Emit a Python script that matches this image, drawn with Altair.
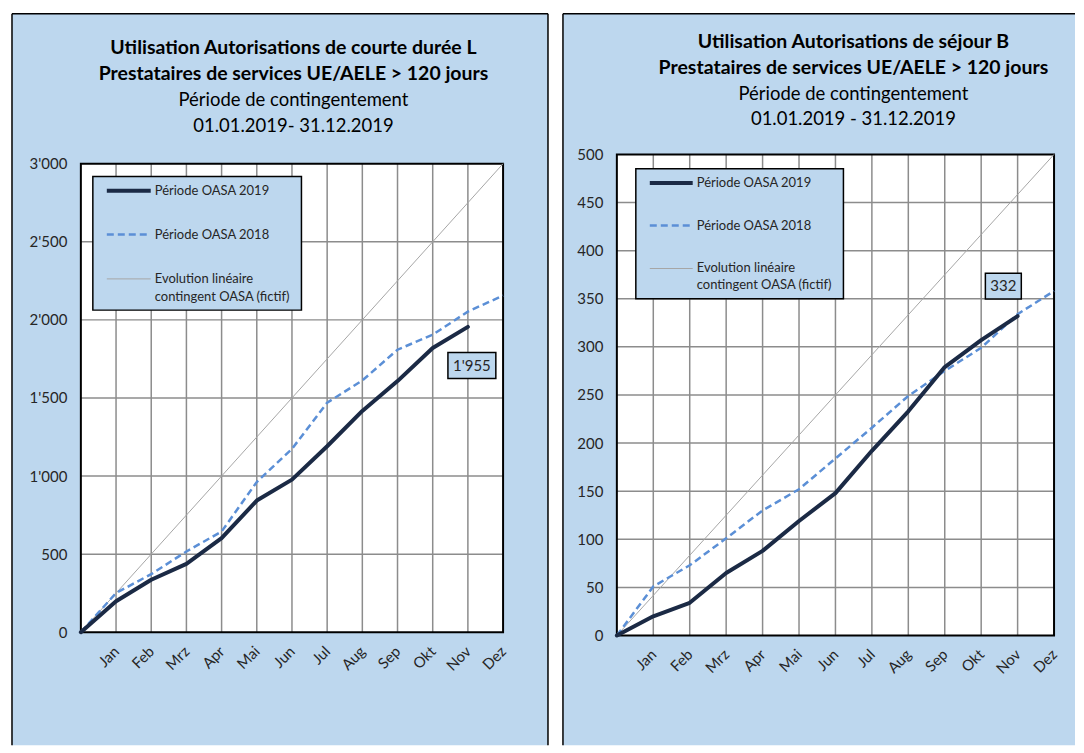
import json
import altair as alt
import pandas as pd

# ---------------- data ----------------
months = ["", "Jan", "Feb", "Mrz", "Apr", "Mai", "Jun", "Jul", "Aug", "Sep", "Okt", "Nov", "Dez"]
month_idx = list(range(13))

series_names = ["Période OASA 2019", "Période OASA 2018", "Evolution linéaire\ncontingent OASA (fictif)"]

# Left chart: Autorisations de courte durée L
L_title_bold = ["Utilisation Autorisations de courte durée L", "Prestataires de services UE/AELE > 120 jours"]
L_title_norm = ["Période de contingentement", "01.01.2019- 31.12.2019"]
L_2019 = [0, 198, 336, 438, 602, 843, 977, 1191, 1417, 1608, 1820, 1955]
L_2018 = [0, 251, 372, 517, 645, 962, 1174, 1470, 1612, 1809, 1905, 2053, 2156]
L_linear = [0, 250, 500, 750, 1000, 1250, 1500, 1750, 2000, 2250, 2500, 2750, 3000]
L_ticks = [0, 500, 1000, 1500, 2000, 2500, 3000]
L_label = "1'955"

# Right chart: Autorisations de séjour B
B_title_bold = ["Utilisation Autorisations de séjour B", "Prestataires de services UE/AELE > 120 jours"]
B_title_norm = ["Période de contingentement", "01.01.2019 - 31.12.2019"]
B_2019 = [0, 20, 34, 65, 88, 119, 148, 192, 233, 279, 307, 332]
B_2018 = [0, 51, 73, 101, 130, 152, 184, 216, 249, 275, 299, 334, 358]
B_linear = [0, 41.67, 83.33, 125, 166.67, 208.33, 250, 291.67, 333.33, 375, 416.67, 458.33, 500]
B_ticks = [0, 50, 100, 150, 200, 250, 300, 350, 400, 450, 500]
B_label = "332"

# ---------------- style ----------------
PANEL_BG = "#BDD7EE"
C2019 = "#1b2a45"
C2018 = "#5b8fd6"
CLIN = "#a6a6a6"
GRID = "#8c8c8c"
TXT = "#262626"
FONT = "Lato"

month_expr = json.dumps(months) + "[datum.value]"
thousand_expr = "replace(format(datum.value, ','), ',', \"'\")"


def panel(W, H, yrange, ymax, ticks, s2019, s2018, slin, label_text,
          title_bold, title_norm, cfg):
    one = pd.DataFrame({"a": [0]})

    xenc = alt.X("m:Q",
                 scale=alt.Scale(domain=[0, 12], nice=False, zero=False),
                 axis=alt.Axis(values=month_idx, labelExpr=month_expr, labelAngle=-45,
                               labelAlign="right", labelBaseline="middle",
                               labelPadding=cfg["xpad"], ticks=False, tickSize=0,
                               domain=False, grid=False, title=None, zindex=1,
                               labelFont=FONT, labelFontSize=15, labelColor=TXT,
                               offset=cfg["xoff"]))
    yenc = alt.Y("v:Q",
                 scale=alt.Scale(domain=[0, ymax], range=yrange, nice=False, zero=True),
                 axis=alt.Axis(values=ticks, labelExpr=thousand_expr, ticks=False, tickSize=0,
                               domain=False, grid=False, title=None, zindex=1,
                               labelPadding=14, labelFont=FONT, labelFontSize=15,
                               labelColor=TXT))

    top, bot = yrange[1], yrange[0]
    L, T, R, B = cfg["panel"]

    layers = []
    # panel background
    layers.append(alt.Chart(one).mark_rect(fill=PANEL_BG, strokeWidth=0).encode(
        x=alt.value(L), x2=alt.value(R), y=alt.value(T), y2=alt.value(B)))
    # panel borders
    layers.append(alt.Chart(one).mark_rule(color="black", strokeWidth=1.5).encode(
        x=alt.value(L), y=alt.value(T), y2=alt.value(B)))
    layers.append(alt.Chart(one).mark_rule(color="black", strokeWidth=1.5).encode(
        x=alt.value(L), x2=alt.value(R), y=alt.value(T)))
    if cfg["right_border"]:
        layers.append(alt.Chart(one).mark_rule(color="black", strokeWidth=1.5).encode(
            x=alt.value(R), y=alt.value(T), y2=alt.value(B)))
    # plot area
    layers.append(alt.Chart(one).mark_rect(fill="white", strokeWidth=0).encode(
        x=alt.value(0), x2=alt.value(W), y=alt.value(top), y2=alt.value(bot)))
    # grid
    vg = pd.DataFrame({"m": month_idx[1:-1]})
    layers.append(alt.Chart(vg).mark_rule(color=GRID, strokeWidth=1.5).encode(
        x=xenc, y=alt.value(top), y2=alt.value(bot)))
    hg = pd.DataFrame({"v": ticks[1:-1]})
    layers.append(alt.Chart(hg).mark_rule(color=GRID, strokeWidth=1.5).encode(
        y=yenc, x=alt.value(0), x2=alt.value(W)))
    # frame
    layers.append(alt.Chart(one).mark_rect(fill=None, stroke="black", strokeWidth=2).encode(
        x=alt.value(0), x2=alt.value(W), y=alt.value(top), y2=alt.value(bot)))
    # series
    dlin = pd.DataFrame({"m": month_idx[:len(slin)], "v": slin})
    d18 = pd.DataFrame({"m": month_idx[:len(s2018)], "v": s2018})
    d19 = pd.DataFrame({"m": month_idx[:len(s2019)], "v": s2019})
    layers.append(alt.Chart(dlin).mark_line(color=CLIN, strokeWidth=1).encode(x=xenc, y=yenc))
    layers.append(alt.Chart(d18).mark_line(color=C2018, strokeWidth=2.5, strokeDash=[7, 4]).encode(
        x=xenc, y=yenc))
    layers.append(alt.Chart(d19).mark_line(color=C2019, strokeWidth=4, strokeJoin="round",
                                           strokeCap="round").encode(x=xenc, y=yenc))
    # data label
    lab = pd.DataFrame({"m": [len(s2019) - 1], "v": [s2019[-1]], "t": [label_text]})
    bw, bh = cfg["box"]
    path = "M-1,-{r}L1,-{r}L1,{r}L-1,{r}Z".format(r=round(bh / bw, 3))
    dx, dy = cfg["boxoff"]
    layers.append(alt.Chart(lab).mark_point(shape=path, size=bw * bw, filled=True, fill=PANEL_BG,
                                            stroke="black", strokeWidth=1.5, opacity=1,
                                            xOffset=dx, yOffset=dy).encode(x=xenc, y=yenc))
    layers.append(alt.Chart(lab).mark_text(font=FONT, fontSize=15, color=TXT, dx=dx, dy=dy,
                                           baseline="middle").encode(x=xenc, y=yenc, text="t:N"))
    # legend
    lx1, ly1, lx2, ly2 = cfg["legbox"]
    layers.append(alt.Chart(one).mark_rect(fill=PANEL_BG, stroke="black", strokeWidth=1.5).encode(
        x=alt.value(lx1), x2=alt.value(lx2), y=alt.value(ly1), y2=alt.value(ly2)))
    sx1, sx2, tx = cfg["legx"]
    ys = cfg["legy"]
    styles = [dict(color=C2019, strokeWidth=4), dict(color=C2018, strokeWidth=2.5, strokeDash=[7, 4]),
              dict(color=CLIN, strokeWidth=1)]
    for i, name in enumerate(series_names):
        layers.append(alt.Chart(one).mark_rule(**styles[i]).encode(
            x=alt.value(sx1), x2=alt.value(sx2), y=alt.value(ys[i])))
        layers.append(alt.Chart(pd.DataFrame({"t": [name]})).mark_text(
            font=FONT, fontSize=13, color=TXT, align="left", baseline="middle",
            lineBreak="\n", lineHeight=cfg["leglh"]).encode(
            x=alt.value(tx), y=alt.value(ys[i]), text="t:N"))
    # titles
    tcx = cfg["tx"]
    by, ny = cfg["ty"]
    layers.append(alt.Chart(pd.DataFrame({"t": ["\n".join(title_bold)]})).mark_text(
        font=FONT, fontSize=19.5, fontWeight="bold", color="black", align="center",
        baseline="middle", lineBreak="\n", lineHeight=cfg["tlh"]).encode(
        x=alt.value(tcx), y=alt.value(by), text="t:N"))
    layers.append(alt.Chart(pd.DataFrame({"t": ["\n".join(title_norm)]})).mark_text(
        font=FONT, fontSize=18.5, color="black", align="center",
        baseline="middle", lineBreak="\n", lineHeight=cfg["tlh"]).encode(
        x=alt.value(tcx), y=alt.value(ny), text="t:N"))

    return alt.layer(*layers).properties(width=W, height=H)


left = panel(
    W=423, H=479, yrange=[478.7, 9.3], ymax=3000, ticks=L_ticks,
    s2019=L_2019, s2018=L_2018, slin=L_linear, label_text=L_label,
    title_bold=L_title_bold, title_norm=L_title_norm,
    cfg=dict(xpad=16, xoff=0, panel=(-69, -141, 468, 592), right_border=True,
             box=(48, 26), boxoff=(4, 38.7),
             legbox=(12, 22, 221, 156), legx=(26, 70, 74), legy=[36.3, 80.3, 124.7], leglh=18,
             tx=213, ty=(-107, -55), tlh=26.5))

right = panel(
    W=438, H=482, yrange=[482, 0], ymax=500, ticks=B_ticks,
    s2019=B_2019, s2018=B_2018, slin=B_linear, label_text=B_label,
    title_bold=B_title_bold, title_norm=B_title_norm,
    cfg=dict(xpad=16, xoff=0, panel=(-54, -141, 459, 592), right_border=False,
             box=(36, 26), boxoff=(-14.3, -30),
             legbox=(19, 14.3, 227, 144.7), legx=(33, 76, 80), legy=[28.7, 71.3, 114.3], leglh=17,
             tx=237, ty=(-113, -61), tlh=26))

chart = alt.hconcat(left, right, spacing=114, bounds="flush").properties(
    padding={"left": 3, "top": 4, "right": 0, "bottom": 0},
    background="white",
).configure_view(stroke=None)

chart.save("out.html", embed_options={"renderer": "svg", "actions": False})
